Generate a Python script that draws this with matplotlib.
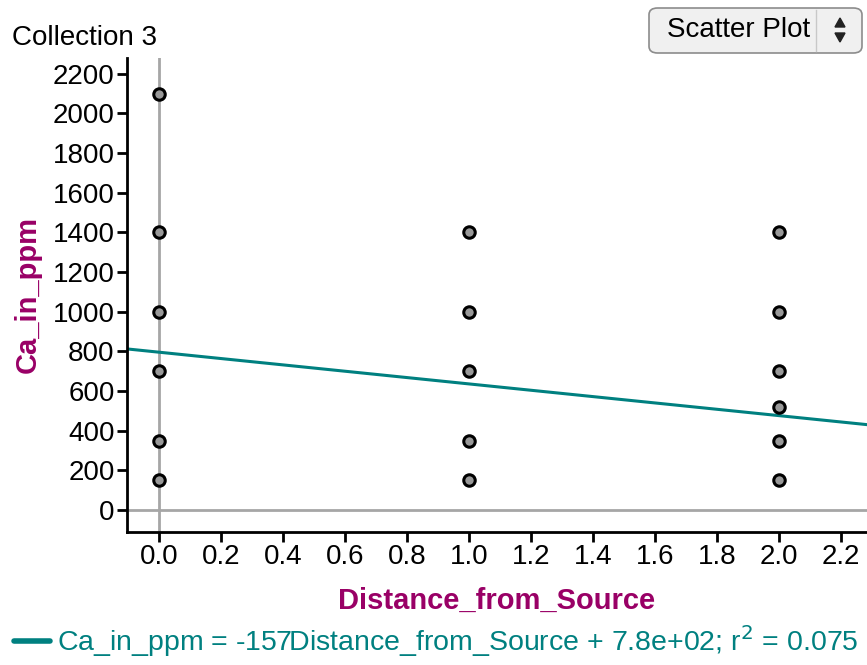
import matplotlib
matplotlib.use("Agg")
import matplotlib.pyplot as plt
from matplotlib.patches import FancyBboxPatch, Polygon

plt.rcParams['font.family'] = ['Liberation Sans', 'DejaVu Sans']

# Data
distance = [0, 0, 0, 0, 0, 0,
            1, 1, 1, 1, 1,
            2, 2, 2, 2, 2, 2]
ca_ppm = [2100, 1400, 1000, 700, 350, 150,
          1400, 1000, 700, 350, 150,
          1400, 1000, 700, 520, 350, 150]

# Least-squares line as drawn
line_slope = -160
line_intercept = 796
line_x = [-0.11, 2.3]

x_ticks = [0.0, 0.2, 0.4, 0.6, 0.8, 1.0, 1.2, 1.4, 1.6, 1.8, 2.0, 2.2]
y_ticks = [0, 200, 400, 600, 800, 1000, 1200, 1400, 1600, 1800, 2000, 2200]

label_col = '#990066'
teal = '#008080'

fig = plt.figure(figsize=(8.67, 6.65), dpi=100)
ax = fig.add_axes([0.1465, 0.2, 0.8535, 0.7128])

# Origin lines
ax.axvline(0, color='#a6a6a6', lw=2, zorder=1)
ax.axhline(0, color='#a6a6a6', lw=2, zorder=1)

ax.plot(line_x, [line_slope * x + line_intercept for x in line_x],
        color=teal, lw=2.2, zorder=2)
ax.scatter(distance, ca_ppm, s=68, facecolor='#999999', edgecolor='black',
           linewidth=2.2, zorder=3)

ax.set_xlim(-0.103, 2.284)
ax.set_ylim(-111, 2280)
ax.set_xticks(x_ticks)
ax.set_xticklabels(['%.1f' % t for t in x_ticks])
ax.set_yticks(y_ticks)

for side in ['top', 'right']:
    ax.spines[side].set_visible(False)
for side in ['left', 'bottom']:
    ax.spines[side].set_linewidth(2)
ax.tick_params(direction='out', length=7, width=2, labelsize=20, pad=2)

ax.set_xlabel('Distance_from_Source', fontsize=21, fontweight='bold',
              color=label_col, labelpad=12)
ax.set_ylabel('Ca_in_ppm', fontsize=21, fontweight='bold',
              color=label_col, labelpad=8)

fig.text(12 / 867, 1 - 38 / 665, 'Collection 3', fontsize=20,
         va='center', ha='left')

# Equation legend
fig.add_artist(plt.Line2D([14 / 867, 50 / 867], [1 - 641 / 665] * 2,
                          color=teal, lw=4, solid_capstyle='round'))
fig.text(57 / 867, 1 - 641 / 665,
         'Ca_in_ppm = -157Distance_from_Source + 7.8e+02; r$^2$ = 0.075',
         fontsize=20.5, color=teal, va='center', ha='left')

# "Scatter Plot" selector
W, H = 867, 665
box = FancyBboxPatch((649 / W, 1 - 53 / H), 213 / W, 45 / H,
                     boxstyle='round,pad=0,rounding_size=0.01',
                     transform=fig.transFigure, facecolor='#f0f0f0',
                     edgecolor='#8c8c8c', lw=1.2)
fig.add_artist(box)
fig.add_artist(plt.Line2D([816 / W] * 2, [1 - 51 / H, 1 - 10 / H],
                          color='#c8c8c8', lw=1))
fig.text(739 / W, 1 - 30 / H, 'Scatter Plot', fontsize=20,
         ha='center', va='center')
fig.add_artist(Polygon([[835 / W, 1 - 27 / H], [845 / W, 1 - 27 / H],
                        [840 / W, 1 - 18 / H]], closed=True,
                       transform=fig.transFigure, color='#222222'))
fig.add_artist(Polygon([[835 / W, 1 - 33 / H], [845 / W, 1 - 33 / H],
                        [840 / W, 1 - 42 / H]], closed=True,
                       transform=fig.transFigure, color='#222222'))

fig.savefig('out.png', dpi=100)
